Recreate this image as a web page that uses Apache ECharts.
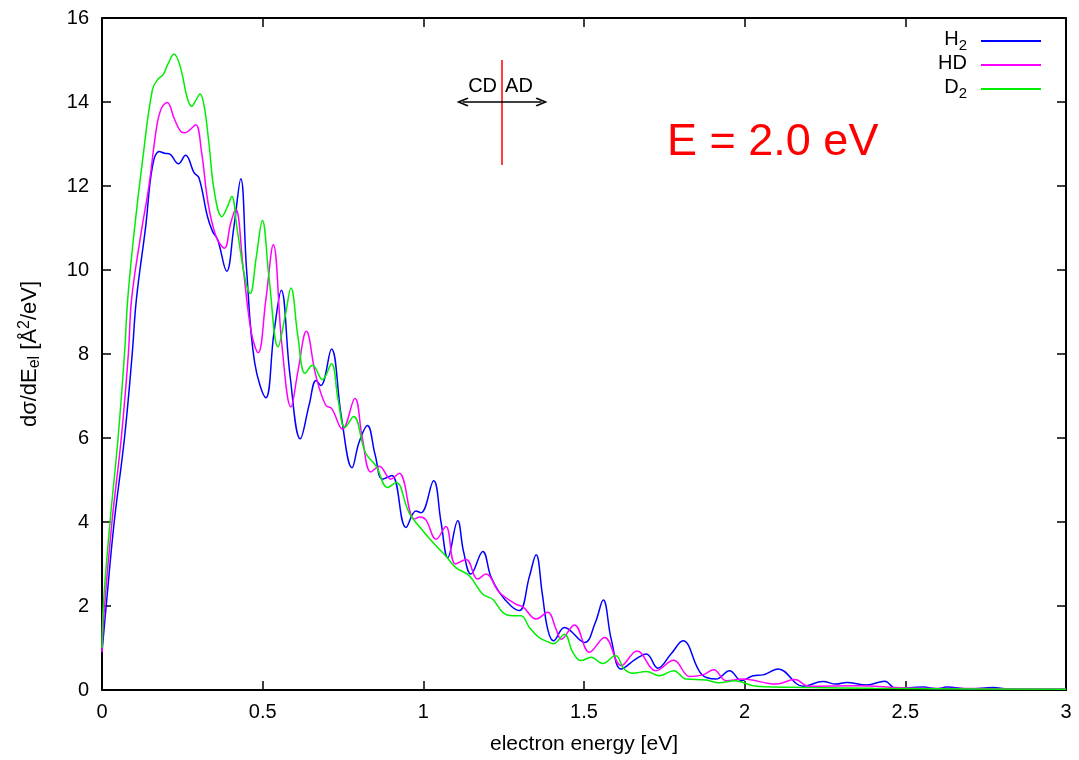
<!DOCTYPE html>
<html><head><meta charset="utf-8">
<script src="https://cdn.jsdelivr.net/npm/echarts@6/dist/echarts.min.js"></script>
<style>html,body{margin:0;padding:0;background:#fff}#c{width:1079px;height:760px}</style>
</head><body><div id="c"></div>
<script>
// ---- data: [electron energy (eV), dσ/dE (Å^2/eV)] ----
const h2Data = [[0,0.9],[0.013,2.0],[0.038,4.0],[0.07,6.0],[0.094,8.0],[0.107,9.3],[0.136,11.04],[0.157,12.47],[0.178,12.82],[0.195,12.78],[0.209,12.77],[0.238,12.53],[0.26,12.73],[0.287,12.31],[0.302,12.19],[0.328,11.28],[0.344,10.92],[0.36,10.72],[0.388,9.97],[0.41,11.0],[0.432,12.17],[0.45,10.0],[0.475,7.8],[0.51,6.96],[0.535,8.5],[0.558,9.52],[0.585,7.5],[0.617,5.98],[0.645,6.8],[0.666,7.37],[0.681,7.25],[0.714,8.12],[0.745,6.5],[0.778,5.29],[0.8,5.9],[0.826,6.30],[0.85,5.6],[0.873,5.02],[0.902,5.11],[0.946,3.87],[0.977,4.26],[0.993,4.22],[1.032,4.98],[1.055,4.0],[1.076,3.15],[1.107,4.03],[1.125,3.3],[1.148,2.76],[1.185,3.30],[1.21,2.7],[1.237,2.32],[1.273,2.0],[1.299,1.89],[1.33,2.7],[1.351,3.22],[1.37,2.3],[1.387,1.45],[1.405,1.17],[1.439,1.49],[1.502,1.13],[1.535,1.6],[1.56,2.14],[1.585,1.2],[1.616,0.50],[1.662,0.74],[1.694,0.86],[1.73,0.52],[1.77,0.85],[1.808,1.17],[1.865,0.38],[1.911,0.26],[1.953,0.46],[1.99,0.22],[2.026,0.34],[2.057,0.36],[2.104,0.50],[2.182,0.09],[2.244,0.20],[2.285,0.14],[2.317,0.18],[2.38,0.12],[2.436,0.21],[2.47,0.04],[2.555,0.07],[2.6,0.03],[2.628,0.07],[2.7,0.02],[2.773,0.06],[2.82,0.02],[3.0,0.02]];
const hdData = [[0,0.9],[0.008,2.0],[0.031,4.0],[0.06,6.0],[0.082,8.0],[0.092,9.3],[0.12,10.8],[0.146,12.0],[0.17,13.4],[0.185,13.85],[0.203,13.99],[0.225,13.6],[0.245,13.3],[0.259,13.27],[0.275,13.35],[0.292,13.46],[0.31,12.8],[0.33,11.6],[0.355,10.8],[0.381,10.52],[0.4,11.1],[0.416,11.45],[0.44,10.0],[0.465,8.5],[0.486,8.03],[0.51,9.3],[0.533,10.6],[0.56,8.2],[0.588,6.74],[0.61,7.6],[0.636,8.54],[0.665,7.5],[0.696,6.78],[0.715,6.7],[0.748,6.21],[0.787,6.94],[0.81,6.0],[0.837,5.19],[0.863,5.33],[0.899,5.02],[0.925,5.16],[0.972,4.07],[0.99,4.12],[1.008,4.05],[1.04,3.59],[1.07,3.89],[1.10,3.0],[1.133,3.11],[1.169,2.64],[1.195,2.76],[1.237,2.32],[1.289,2.04],[1.31,1.98],[1.351,1.69],[1.387,1.85],[1.413,1.45],[1.429,1.21],[1.47,1.55],[1.517,0.90],[1.564,1.25],[1.616,0.58],[1.665,0.93],[1.724,0.46],[1.779,0.71],[1.829,0.32],[1.87,0.36],[1.904,0.48],[1.943,0.22],[1.995,0.26],[2.098,0.14],[2.156,0.25],[2.2,0.09],[2.35,0.1],[2.5,0.05],[2.8,0.03],[3.0,0.02]];
const d2Data = [[0,1.0],[0.004,2.0],[0.025,4.0],[0.05,6.0],[0.07,8.0],[0.08,9.3],[0.1,10.9],[0.126,12.6],[0.157,14.3],[0.175,14.55],[0.19,14.65],[0.205,14.9],[0.224,15.14],[0.245,14.8],[0.265,14.1],[0.279,13.9],[0.293,14.05],[0.305,14.19],[0.318,13.9],[0.333,13.0],[0.35,11.84],[0.373,11.27],[0.39,11.5],[0.404,11.75],[0.42,11.0],[0.445,9.8],[0.461,9.44],[0.48,10.3],[0.499,11.18],[0.52,9.8],[0.548,8.17],[0.57,8.9],[0.588,9.57],[0.61,8.4],[0.632,7.54],[0.655,7.73],[0.686,7.39],[0.714,7.77],[0.735,6.9],[0.756,6.25],[0.783,6.51],[0.82,5.65],[0.853,5.33],[0.889,4.82],[0.915,4.94],[0.956,4.22],[1.003,3.75],[1.04,3.43],[1.07,3.19],[1.10,2.92],[1.143,2.72],[1.185,2.28],[1.216,2.16],[1.247,1.85],[1.278,1.77],[1.304,1.77],[1.33,1.49],[1.36,1.25],[1.393,1.13],[1.405,1.1],[1.439,1.33],[1.465,0.9],[1.491,0.70],[1.522,0.78],[1.558,0.63],[1.598,0.82],[1.625,0.5],[1.652,0.40],[1.694,0.44],[1.735,0.34],[1.779,0.46],[1.818,0.26],[1.88,0.24],[1.92,0.17],[1.97,0.22],[2.036,0.09],[2.2,0.06],[2.4,0.04],[2.6,0.03],[3.0,0.02]];

const seriesNames = ['H2', 'HD', 'D2'];
const seriesLabels = ['{n|H}{s|2}', '{n|HD}{z|}', '{n|D}{s|2}'];
const seriesColors = ['#0000ff', '#ff00ff', '#00ee00'];

const xRange = [0, 3], xStep = 0.5;
const yRange = [0, 16], yStep = 2;

// annotation: CD | AD marker
const markerE = 1.245;
const markerLine = [12.5, 15.0];
const arrowV = 14.0, arrowHalf = 0.123;
const markerTextV = 14.38;
const titleText = 'E = 2.0 eV';

const FONT = '"Liberation Sans", Arial, Helvetica, sans-serif';
const chevron = 'path://M5,0 L10,9 L8.6,10 L5,3.4 L1.4,10 L0,9 Z';

const axisCommon = {
  axisLine: {show: true, onZero: false, lineStyle: {color: '#000', width: 2}},
  axisTick: {show: true, inside: true, length: 9, lineStyle: {color: '#000', width: 1.5}},
  splitLine: {show: false}
};
const chart = echarts.init(document.getElementById('c'));
const datasets = [h2Data, hdData, d2Data];
const series = seriesNames.map((n, i) => ({
  name: n, type: 'line', data: datasets[i], showSymbol: false, smooth: 0.4,
  lineStyle: {color: seriesColors[i], width: 1.5}, itemStyle: {color: seriesColors[i]},
  silent: true, z: 3 + i
}));
series.push({
  name: 'annot', type: 'line', data: [], silent: true,
  markLine: {
    silent: true, animation: false, label: {show: false}, symbol: ['none', 'none'],
    data: [
      [{coord: [markerE, markerLine[0]], symbol: 'none', lineStyle: {color: '#ff0000', width: 1.5, type: 'solid'}},
       {coord: [markerE, markerLine[1]], symbol: 'none', lineStyle: {color: '#ff0000', width: 1.5, type: 'solid'}}],
      [{coord: [markerE - arrowHalf, arrowV], symbol: chevron, symbolSize: [9, 12], lineStyle: {color: '#000', width: 1.5, type: 'solid'}, itemStyle: {color: '#000'}},
       {coord: [markerE + arrowHalf, arrowV], symbol: chevron, symbolSize: [9, 12], lineStyle: {color: '#000', width: 1.5, type: 'solid'}, itemStyle: {color: '#000'}}]
    ]
  },
  markPoint: {
    silent: true, animation: false, symbol: 'circle', symbolSize: 0,
    data: [
      {coord: [markerE, markerTextV], label: {show: true, formatter: 'CD', position: 'left', distance: 5, fontSize: 20, color: '#000', fontFamily: FONT}},
      {coord: [markerE, markerTextV], label: {show: true, formatter: 'AD', position: 'right', distance: 3, fontSize: 20, color: '#000', fontFamily: FONT}}
    ]
  }
});

chart.setOption({
  animation: false,
  backgroundColor: '#fff',
  grid: {left: 102, right: 13, top: 18, bottom: 69, containLabel: false},
  xAxis: [
    Object.assign({type: 'value', min: xRange[0], max: xRange[1], interval: xStep, position: 'bottom',
      axisLabel: {color: '#000', fontSize: 20, fontFamily: FONT, margin: 12},
      name: 'electron energy [eV]', nameLocation: 'middle', nameGap: 44,
      nameTextStyle: {color: '#000', fontSize: 21, fontFamily: FONT}}, axisCommon),
    Object.assign({type: 'value', min: xRange[0], max: xRange[1], interval: xStep, position: 'top',
      axisLabel: {show: false}}, axisCommon)
  ],
  yAxis: [
    Object.assign({type: 'value', min: yRange[0], max: yRange[1], interval: yStep, position: 'left',
      axisLabel: {color: '#000', fontSize: 20, fontFamily: FONT, margin: 13},
      name: '{m|dσ/dE}{sb|el}{m| [Å}{sp|2}{m|/eV]}', nameLocation: 'middle', nameRotate: 90, nameGap: 59,
      nameTextStyle: {color: '#000', fontFamily: FONT, rich: {
        m: {fontSize: 22, lineHeight: 26, fontFamily: FONT, color: '#000'},
        sb: {fontSize: 16, lineHeight: 10, verticalAlign: 'bottom', fontFamily: FONT, color: '#000'},
        sp: {fontSize: 16, lineHeight: 10, verticalAlign: 'top', fontFamily: FONT, color: '#000'}
      }}}, axisCommon),
    Object.assign({type: 'value', min: yRange[0], max: yRange[1], interval: yStep, position: 'right',
      axisLabel: {show: false}}, axisCommon)
  ],
  legend: {
    data: seriesNames, orient: 'vertical', right: 33, top: 24, align: 'right',
    itemWidth: 60, itemHeight: 2, itemGap: 0, icon: 'rect', selectedMode: false,
    formatter: name => seriesLabels[seriesNames.indexOf(name)],
    textStyle: {color: '#000', fontFamily: FONT, padding: [0, 9, 0, 0], rich: {
      n: {fontSize: 20, lineHeight: 22, verticalAlign: 'top', fontFamily: FONT, color: '#000'},
      s: {fontSize: 15, lineHeight: 24, verticalAlign: 'bottom', fontFamily: FONT, color: '#000'},
      z: {fontSize: 15, lineHeight: 24, verticalAlign: 'bottom', fontFamily: FONT, color: '#000'}
    }}
  },
  graphic: [{
    type: 'text', x: 667, y: 143, silent: true,
    style: {text: titleText, fill: '#ff0000', fontSize: 45, fontFamily: FONT, verticalAlign: 'middle', align: 'left'}
  }],
  series: series
});
</script>
</body></html>
